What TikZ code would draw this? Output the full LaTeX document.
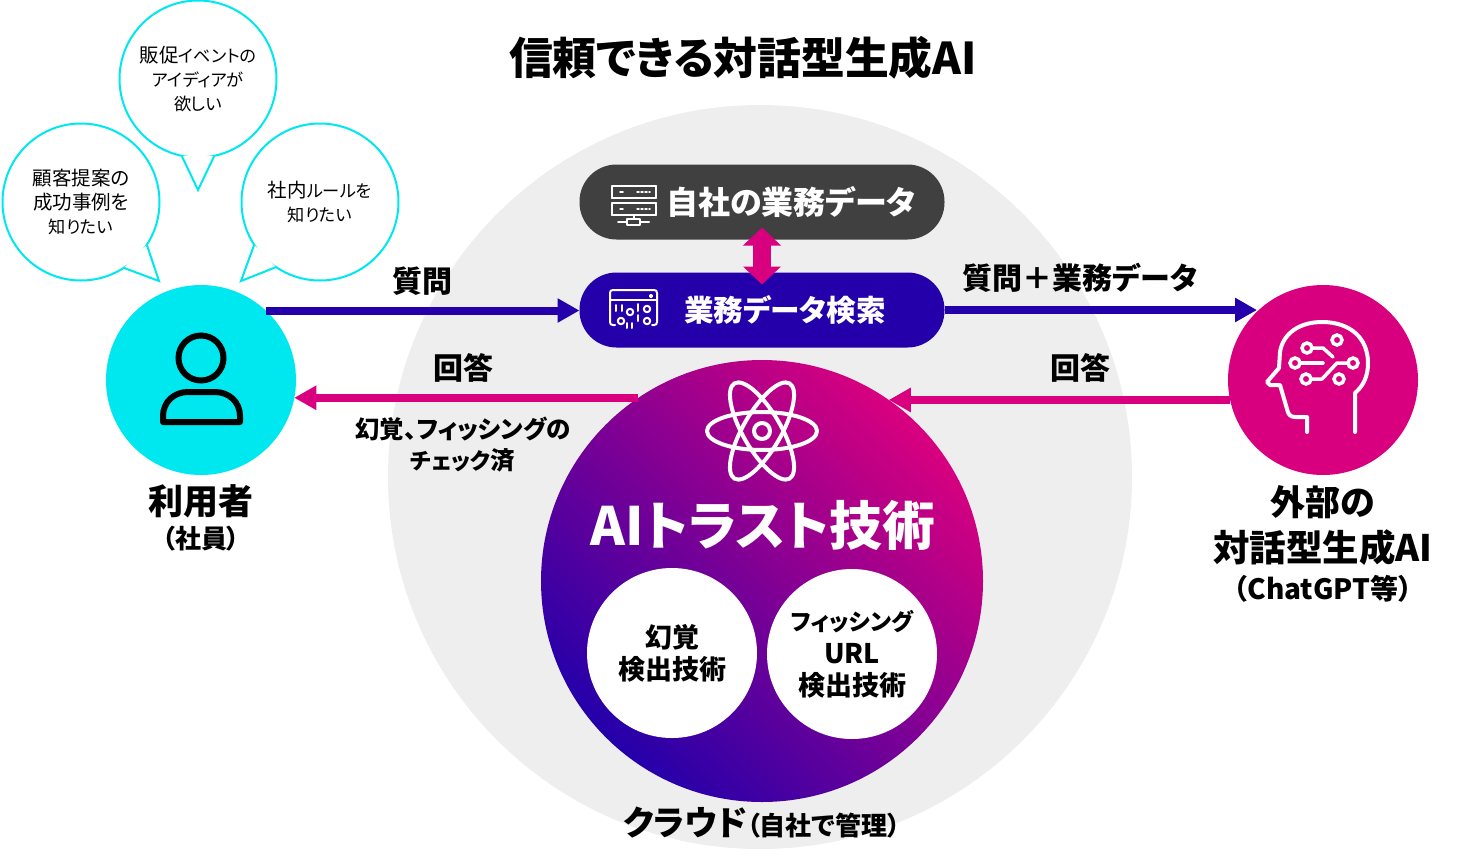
\documentclass[tikz,border=0pt]{standalone}
\usepackage{fontspec}
\setmainfont{Noto Sans CJK JP}[RawFeature=+palt]
\usepackage{xcolor}
\usetikzlibrary{positioning,arrows.meta,calc}

\definecolor{cgray}{HTML}{EEEEEE}
\definecolor{cdark}{HTML}{404040}
\definecolor{cblue}{HTML}{2400AA}
\definecolor{cmag}{HTML}{D9007F}
\definecolor{ccyan}{HTML}{00E8EF}
\newcommand{\fs}[2]{\fontsize{#1}{#2}\selectfont}
\newcommand{\kn}[1]{{\fs{17.2}{24}#1}}
\newcommand{\bubbletail}[3]{\fill[white] (#1) -- (#2) -- (#3) -- cycle; \draw[bubbleline] (#1) -- (#2) -- (#3);}

\begin{document}
\begin{tikzpicture}[
      x=1pt, y=-1pt,
      bubbleline/.style={draw=ccyan, line width=2pt, line join=miter},
      bubble/.style={circle, bubbleline, fill=white, minimum size=157pt, inner sep=0pt, outer sep=0pt,
                     align=center, font=\fs{19.5}{24}},
      actor/.style={circle, minimum size=190pt, inner sep=0pt, outer sep=0pt},
      pill/.style={rectangle, rounded corners=37pt, minimum width=365pt, minimum height=75pt,
                   inner sep=0pt, outer sep=0pt, text=white, font=\fs{32}{36}\bfseries},
      tech/.style={circle, fill=white, minimum size=170pt, inner sep=0pt, align=center,
                   font=\fs{27}{32}\bfseries},
      lbl/.style={align=center, inner sep=0pt, font=\fs{30}{36}\bfseries},
      arr/.style={-{Triangle[length=22pt,width=23pt]}, line width=8pt},
      iconw/.style={draw=white, line width=4pt, line cap=round, line join=round},
      thin icon/.style={draw=white, line width=2pt, line cap=round, line join=round},
    ]
    \useasboundingbox (0,0) rectangle (1467,865);
    \node[circle, fill=cgray, minimum size=744pt, inner sep=0pt] (cloud) at (760,477) {};
    \node[lbl, font=\fs{43.8}{50}\bfseries] (title) at (743,58) {信頼できる対話型生成AI};

    % bubbles
    \node[bubble] (b1) at (198,79) {販促\kn{イベントの}\\\kn{アイディアが}\\\kn{欲しい}};
    \node[bubble] (b2) at (81,202) {顧客提案の\\成功事例を\\\kn{知りたい}};
    \node[bubble] (b3) at (320,202) {社内\kn{ルールを}\\\kn{知りたい}};
    \coordinate (t1) at (198,190);
    \coordinate (t2) at (159,281);
    \coordinate (t3) at (241,281);
    \bubbletail{b1.258.3}{t1}{b1.282.5}
    \bubbletail{b2.-33.7}{t2}{b2.-57.5}
    \bubbletail{b3.213.3}{t3}{b3.236.9}

    % main nodes
    \node[actor, fill=ccyan] (user) at (201,380) {};
    \node[actor, fill=cmag] (llm) at (1323,380) {};
    \node[pill, fill=cdark] (data) at (762,202) {\hspace*{58pt}自社の業務データ};
    \node[pill, fill=cblue, font=\fs{29.6}{36}\bfseries] (search) at (762,310) {\hspace*{46pt}業務データ検索};
    \node[circle, minimum size=442pt, inner sep=0pt, outer sep=0pt, shading=axis,
          left color=cmag, right color=cblue, shading angle=-45] (trust) at (762,581) {};
    \node[tech] (halluc) at (672,653) {幻覚\\検出技術};
    \node[tech] (phish) at (852,654) {{\fs{23}{32}フィッシング}\\[1pt]URL\\検出技術};
    \node[lbl, text=white, font=\fs{52.8}{60}\bfseries] (trustlbl) at (763,525) {AIトラスト技術};

    % connectors
    \draw[arr, cblue] (user.47.6) -- (user.47.6 -| search.west);
    \draw[arr, cblue] (search.east) -- (llm.134.6 |- search.east);
    \draw[arr, cmag] (trust.124.1) -- (user.-11 |- trust.124.1);
    \draw[arr, cmag] (llm.191 |- trust.55.9) -- (trust.55.9);
    \draw[cmag, line width=18pt, {Triangle[length=18pt,width=37pt]}-{Triangle[length=18pt,width=37pt]},
          shorten <=-12pt, shorten >=-12pt] (data.south) -- (search.north);

    % labels
    \node[lbl] (q1) at (422,281) {質問};
    \node[lbl] (q2) at (1080,278) {質問＋業務データ};
    \node[lbl] (a1) at (463,368) {回答};
    \node[lbl] (a2) at (1080,368) {回答};
    \node[lbl, font=\fs{24.5}{31}\bfseries] (chk) at (463,445) {幻覚、フィッシングの\\{\fs{22.5}{31}チェック}済};
    \node[lbl, font=\fs{35}{37}\bfseries] (ulbl) at (201,501) {利用者};
    \node[lbl, font=\fs{26}{30}\bfseries, below=8pt of ulbl] (usub) {\kern3pt（社員）\kern3pt};
    \node[lbl, font=\fs{35}{46}\bfseries] (llbl) at (1323,525.5) {外部の\\{\fs{36.5}{46}対話型生成AI}};
    \node[lbl, font=\fs{28}{30}\bfseries, below=9.5pt of llbl] (lsub) {（ChatGPT等）};
    \node[lbl, font=\fs{34}{38}\bfseries, anchor=base west] (clbl) at (623,835) {クラウド\fs{26}{38}（自社で管理）};

    % user icon
    \draw[black, line width=6pt] (201,358) circle (22.5);
    \draw[black, line width=6pt, line join=round] (163,422) -- (163,416)
      .. controls (163,402) and (174,392) .. (188,392) -- (215,392)
      .. controls (229,392) and (240,402) .. (240,416) -- (240,422) -- cycle;

    % head icon
    \draw[iconw] (1307,432) -- (1307,417) -- (1295,417) .. controls (1290,417) and (1288,414) .. (1287,409)
      -- (1280,385) -- (1270,385) -- (1267,382) -- (1279,368) -- (1280,352)
      .. controls (1283,333) and (1300,322) .. (1322,322)
      .. controls (1350,322) and (1368,338) .. (1368,363)
      .. controls (1368,377) and (1363,386) .. (1355,393) -- (1355,432);
    \foreach \px/\py in {1337/340,1307/348,1295/363,1353/363,1306/379,1339/379}
      \draw[draw=white, line width=3.5pt] (\px,\py) circle (5);
    \draw[iconw, line width=3.5pt] (1312,348) -- (1323,348) -- (1333,357);
    \draw[iconw, line width=3.5pt] (1300,363) -- (1323,363);
    \draw[iconw, line width=3.5pt] (1311,379) -- (1322,379) -- (1337,363) -- (1348,363);

    % server icon
    \foreach \ry in {186,203}{
      \draw[thin icon] (612,\ry) -- (656,\ry);
      \draw[thin icon] (612,\ry+12) -- (656,\ry+12);
      \draw[thin icon] (612,\ry) -- (612,\ry+12);
      \draw[thin icon] (656,\ry) -- (656,\ry+12);
      \draw[thin icon, line width=1.5pt] (620,\ry+6) -- (623,\ry+6);
      \draw[thin icon, line width=1.5pt, dash pattern=on 2pt off 2pt] (637,\ry+6) -- (650,\ry+6);
    }
    \draw[thin icon] (633.5,215) -- (633.5,219);
    \draw[thin icon] (627,219) rectangle (640,225);
    \draw[thin icon] (618,222) -- (627,222);
    \draw[thin icon] (640,222) -- (649,222);

    % search icon
    \draw[thin icon] (615,325) -- (613,325) .. controls (611,325) and (610,324) .. (610,322) -- (610,293)
      .. controls (610,291) and (611,290) .. (613,290) -- (654,290)
      .. controls (656,290) and (657,291) .. (657,293) -- (657,322)
      .. controls (657,324) and (656,325) .. (654,325) -- (652,325);
    \draw[thin icon] (610,300) -- (657,300);
    \draw[thin icon] (651,296) circle (1.2);
    \foreach \px/\py in {630/312,647/309,621/321,647/321}
      \draw[thin icon] (\px,\py) circle (3.2);
    \foreach \px/\pa/\pb in {616/305/311,622/305/311,638/304/311,638/315/321,627/323/328,632/323/328}
      \draw[thin icon] (\px,\pa) -- (\px,\pb);

    % atom icon
    \coordinate (atom) at (762,431);
    \foreach \ang in {0,60,120}
      \draw[iconw, rotate around={\ang:(atom)}] (atom) ellipse [x radius=55, y radius=19];
    \draw[iconw] (atom) circle (8);
  \end{tikzpicture}
\end{document}
